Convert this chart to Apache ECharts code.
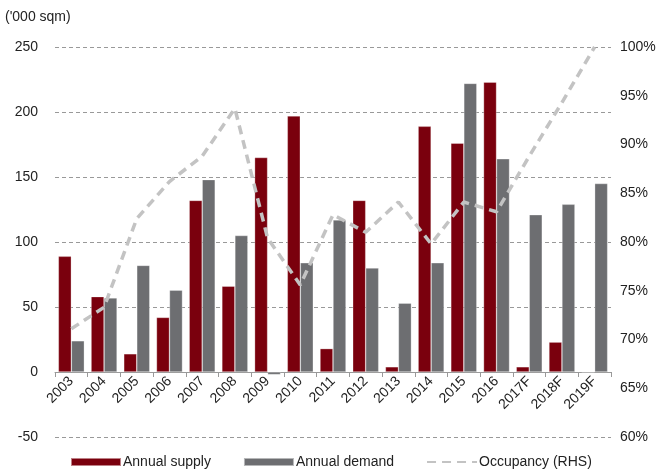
<!DOCTYPE html>
<html><head><meta charset="utf-8">
<script src="https://cdn.jsdelivr.net/npm/echarts@6/dist/echarts.min.js"></script>
<style>html,body{margin:0;padding:0;background:#fff}#c{width:665px;height:472px}</style>
</head><body><div id="c"></div>
<script>
const categories = ['2003','2004','2005','2006','2007','2008','2009','2010','2011','2012','2013','2014','2015','2016','2017F','2018F','2019F'];
const annualSupply = [89, 58, 14, 42, 132, 66, 165, 197, 18, 132, 4, 189, 176, 223, 4, 23, 0];
const annualDemand = [24, 57, 82, 63, 148, 105, -2, 84, 117, 80, 53, 84, 222, 164, 121, 129, 145];
const occupancy = [71.1, 73.3, 82.4, 86.2, 88.8, 93.7, 80.4, 75.6, 82.8, 81.0, 84.1, 79.8, 84.1, 83.1, 88.8, 94.3, 100];
const leftTicks = {min: -50, max: 250, interval: 50};
const rightTicks = {min: 60, max: 100, interval: 5};

const font = 'Liberation Sans, Arial, sans-serif';
const chart = echarts.init(document.getElementById('c'));
chart.setOption({
  animation: false,
  textStyle: {fontFamily: font},
  graphic: [{type: 'text', left: 5, top: 10, style: {text: "('000 sqm)", font: '14px ' + font, fill: '#222'}}],
  grid: {left: 55, right: 54, top: 47, bottom: 35, containLabel: false, outerBoundsMode: 'none'},
  legend: {
    top: 450, left: 65, itemWidth: 50, itemHeight: 8, itemGap: 32,
    textStyle: {fontSize: 14, color: '#222', fontFamily: font, padding: [0,0,0,-3]},
    data: [
      {name: 'Annual supply', icon: 'rect'},
      {name: 'Annual demand', icon: 'rect'},
      {name: 'Occupancy (RHS)', itemStyle: {opacity: 0}}
    ]
  },
  xAxis: {
    type: 'category', data: categories,
    offset: -65,
    axisLine: {onZero: false, lineStyle: {color: '#999', width: 1}},
    axisTick: {show: true, length: 5, lineStyle: {color: '#999'}},
    axisLabel: {interval: 0, rotate: 45, fontSize: 14, color: '#222', margin: 7, fontFamily: font}
  },
  yAxis: [
    {type: 'value', min: leftTicks.min, max: leftTicks.max, interval: leftTicks.interval,
     axisLine: {show: false}, axisTick: {show: false},
     axisLabel: {fontSize: 14, color: '#222', margin: 17, fontFamily: font},
     splitLine: {lineStyle: {color: '#999', type: [4, 3], width: 1}}},
    {type: 'value', min: rightTicks.min, max: rightTicks.max, interval: rightTicks.interval,
     axisLine: {show: false}, axisTick: {show: false},
     axisLabel: {fontSize: 14, color: '#222', margin: 9, formatter: '{value}%', fontFamily: font},
     splitLine: {show: false}}
  ],
  series: [
    {name: 'Annual supply', type: 'bar', data: annualSupply, barWidth: 13, barGap: '0%',
     itemStyle: {color: '#7A000D', borderColor: 'rgba(255,255,255,0.5)', borderWidth: 0.6}},
    {name: 'Annual demand', type: 'bar', data: annualDemand, barWidth: 13,
     itemStyle: {color: '#6D6E71', borderColor: 'rgba(255,255,255,0.5)', borderWidth: 0.6}},
    {name: 'Occupancy (RHS)', type: 'line', yAxisIndex: 1, data: occupancy, symbol: 'none',
     z: 5, lineStyle: {color: '#C3C3C3', width: 3.5, type: [9, 6]},
     itemStyle: {color: '#C3C3C3'}}
  ]
});
</script></body></html>
